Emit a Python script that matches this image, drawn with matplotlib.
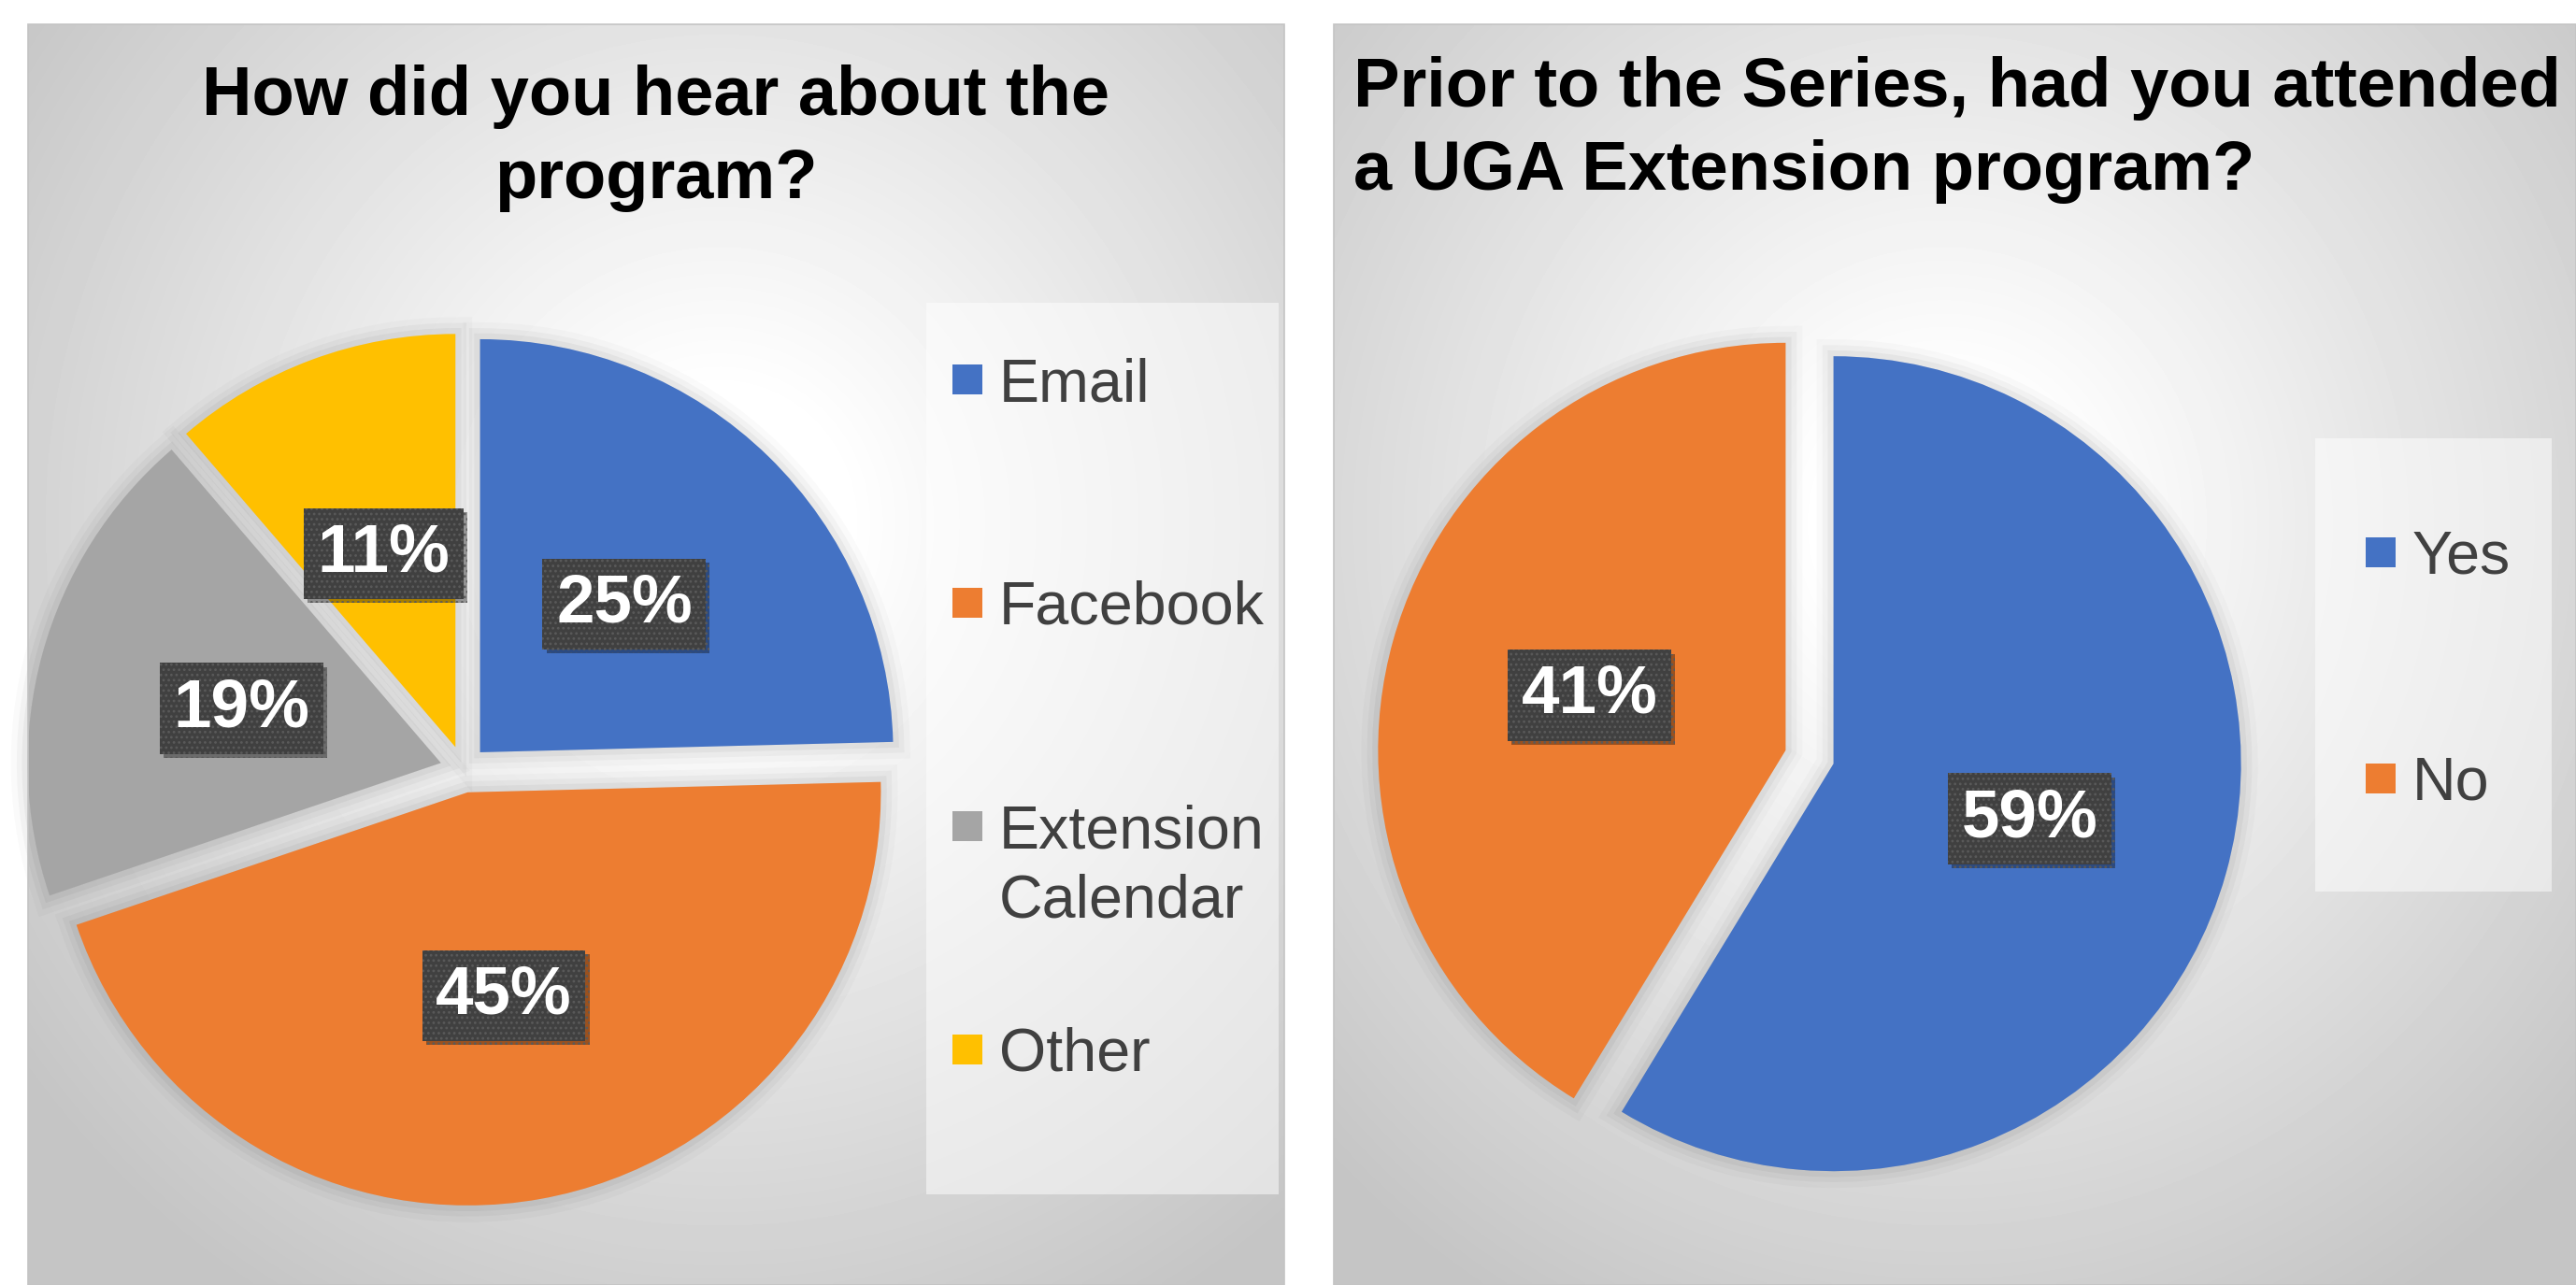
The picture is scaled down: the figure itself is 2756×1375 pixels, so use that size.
import numpy as np
import matplotlib
matplotlib.use('Agg')
import matplotlib.pyplot as plt
from matplotlib import patheffects as pe
from matplotlib.patches import Rectangle

plt.rcParams['font.family'] = ['Liberation Sans', 'DejaVu Sans']
plt.rcParams['hatch.linewidth'] = 1.2

# data (shares in percent)
source_labels = ['Email', 'Facebook', 'Extension\nCalendar', 'Other']
source_share = [24.6, 45.2, 18.9, 11.3]
source_colors = ['#4472C4', '#ED7D31', '#A5A5A5', '#FFC000']

prior_labels = ['Yes', 'No']
prior_share = [58.7, 41.3]
prior_colors = ['#4472C4', '#ED7D31']

W, H = 2756, 1375
fig = plt.figure(figsize=(W / 100, H / 100), dpi=100)
fig.patch.set_facecolor('white')


def fx(x):
    return x / W


def fy(y):
    return 1 - y / H


def panel(x0, x1, y0, y1, cx, cy):
    ax = fig.add_axes([fx(x0), fy(y1), (x1 - x0) / W, (y1 - y0) / H])
    X, Y = np.meshgrid(np.linspace(x0, x1, 300), np.linspace(y0, y1, 300))
    t = np.hypot((X - cx) / ((x1 - x0) / 2), (Y - cy) / 700)
    v = 1 - 0.23 * np.clip((t - 0.2) / 1.2, 0, 1)
    ax.imshow(v, cmap='gray', vmin=0, vmax=1, aspect='auto', interpolation='bilinear')
    ax.axis('off')
    fig.patches.append(Rectangle((fx(x0), fy(y1)), (x1 - x0) / W, (y1 - y0) / H,
                                 transform=fig.transFigure, fill=False,
                                 edgecolor='#c4c4c4', lw=1.2))


shadow = [pe.Stroke(linewidth=26, foreground='black', alpha=0.02),
          pe.Stroke(linewidth=17, foreground='black', alpha=0.03),
          pe.Stroke(linewidth=9, foreground='black', alpha=0.04),
          pe.Normal()]


def draw_pie(values, colors, cx, cy, r, explode):
    half = 1.2 * r
    ax = fig.add_axes([fx(cx - half), fy(cy + half), 2 * half / W, 2 * half / H])
    wedges, _, autotexts = ax.pie(values, colors=colors, startangle=90, counterclock=False,
                                  explode=[explode] * len(values), pctdistance=0.5,
                                  autopct=lambda p: f'{p:.0f}%')
    ax.set_xlim(-1.2, 1.2)
    ax.set_ylim(-1.2, 1.2)
    ax.axis('off')
    for w in wedges:
        w.set_path_effects(shadow)
        w.set_clip_on(False)
    for t in autotexts:
        t.set(color='white', fontsize=52.5, fontweight='bold')
        t.set_bbox(dict(boxstyle='square,pad=0.2', facecolor='#404040',
                        edgecolor='#5a5a5a', lw=0, hatch='...'))
        t.get_bbox_patch().set_path_effects(
            [pe.withSimplePatchShadow(offset=(3, -3), shadow_rgbFace='black', alpha=0.35),
             pe.Normal()])


def legend(box, labels, colors, x_marker, y_first, step):
    bx0, by0, bx1, by1 = box
    fig.patches.append(Rectangle((fx(bx0), fy(by1)), (bx1 - bx0) / W, (by1 - by0) / H,
                                 transform=fig.transFigure, facecolor='white',
                                 alpha=0.5, edgecolor='none'))
    for i, (lab, col) in enumerate(zip(labels, colors)):
        yc = y_first + i * step
        fig.patches.append(Rectangle((fx(x_marker), fy(yc + 16)), 32 / W, 32 / H,
                                     transform=fig.transFigure, facecolor=col,
                                     edgecolor='none'))
        for k, line in enumerate(lab.split('\n')):
            fig.text(fx(x_marker + 50), fy(yc + 23 + k * 74), line, ha='left',
                     va='baseline', fontsize=46.5, color='#404040')


# left chart
panel(30, 1374, 26, 1375, 770, 560)
draw_pie(source_share, source_colors, 496, 823, 442, 0.057)
legend((991, 324, 1368, 1278), source_labels, source_colors, 1019, 406, 239)
fig.text(fx(702), fy(123), 'How did you hear about the', ha='center', va='baseline',
         fontsize=53.4, fontweight='bold', color='black')
fig.text(fx(702), fy(212), 'program?', ha='center', va='baseline',
         fontsize=53.4, fontweight='bold', color='black')

# right chart
panel(1427, 2756, 26, 1375, 2080, 560)
draw_pie(prior_share, prior_colors, 1936, 810, 436, 0.061)
legend((2477, 469, 2730, 954), prior_labels, prior_colors, 2531, 591, 242)
fig.text(fx(1448), fy(114), 'Prior to the Series, had you attended', ha='left',
         va='baseline', fontsize=53.4, fontweight='bold', color='black')
fig.text(fx(1448), fy(203), 'a UGA Extension program?', ha='left',
         va='baseline', fontsize=53.4, fontweight='bold', color='black')

plt.savefig('out.png', dpi=100, facecolor='white')
